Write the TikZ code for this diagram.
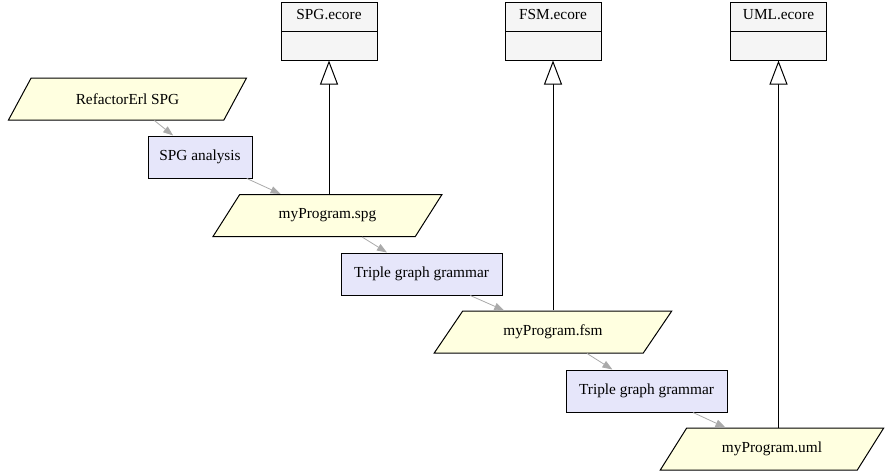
\documentclass[tikz,border=0pt]{standalone}
\usepackage{fontspec}
\setmainfont{Liberation Serif}
\usetikzlibrary{shapes.geometric, shapes.multipart, arrows.meta}

\definecolor{datafill}{HTML}{FFFFE0}
\definecolor{stepfill}{HTML}{E6E6FA}
\definecolor{metafill}{HTML}{F5F5F5}
\definecolor{flowgray}{HTML}{AAAAAA}

\begin{document}
\begin{tikzpicture}[x=0.75pt, y=-0.75pt,
  every node/.style={font=\fontsize{11.5}{13}\selectfont, line width=0.75pt},
  data/.style={draw, fill=datafill, trapezium, trapezium left angle=42, trapezium right angle=138, trapezium stretches=true, minimum height=31.5pt, inner sep=0pt},
  stepbox/.style={draw, fill=stepfill, rectangle, minimum width=120.75pt, minimum height=31.5pt, inner sep=0pt},
  meta/.style={draw, fill=metafill, rectangle split, rectangle split parts=2, minimum width=72pt, inner ysep=4pt},
  flow/.style={draw=flowgray, line width=0.6pt, -{Triangle[length=7.5pt, width=5.5pt, fill=flowgray]}},
  inherit/.style={line width=0.75pt, -{Triangle[open, length=18pt, width=13.5pt, fill=white]}}]
  \useasboundingbox (0,0) rectangle (885,471);

  % metamodels
  \foreach \name/\x/\txt in {spgcore/329/SPG.ecore, fsmcore/553/FSM.ecore, umlcore/778.5/UML.ecore} {
    \node[meta] (\name) at (\x, 31) {\strut\txt\nodepart{two}\strut};
  }

  % data and steps
  \node[data, minimum width=179.25pt] (erl) at (127.5, 99) {RefactorErl SPG};
  \node[stepbox, minimum width=78pt] (ana) at (200, 157) {SPG analysis};
  \node[data, minimum width=173.25pt] (spg) at (327.5, 215.5) {myProgram.spg};
  \node[stepbox] (tgg1) at (421.5, 274) {Triple graph grammar};
  \node[data, minimum width=178.5pt] (fsm) at (553, 332) {myProgram.fsm};
  \node[stepbox] (tgg2) at (646.5, 391) {Triple graph grammar};
  \node[data, minimum width=168.75pt] (uml) at (772, 449) {myProgram.uml};

  % flow
  \foreach \a/\b in {erl/ana, ana/spg, spg/tgg1, tgg1/fsm, fsm/tgg2, tgg2/uml} {
    \draw[flow] (\a) -- (\b);
  }

  % conformance
  \foreach \a/\b in {spg/spgcore, fsm/fsmcore, uml/umlcore} {
    \draw[inherit] (\a.north -| \b.south) -- (\b.south);
  }
\end{tikzpicture}
\end{document}
